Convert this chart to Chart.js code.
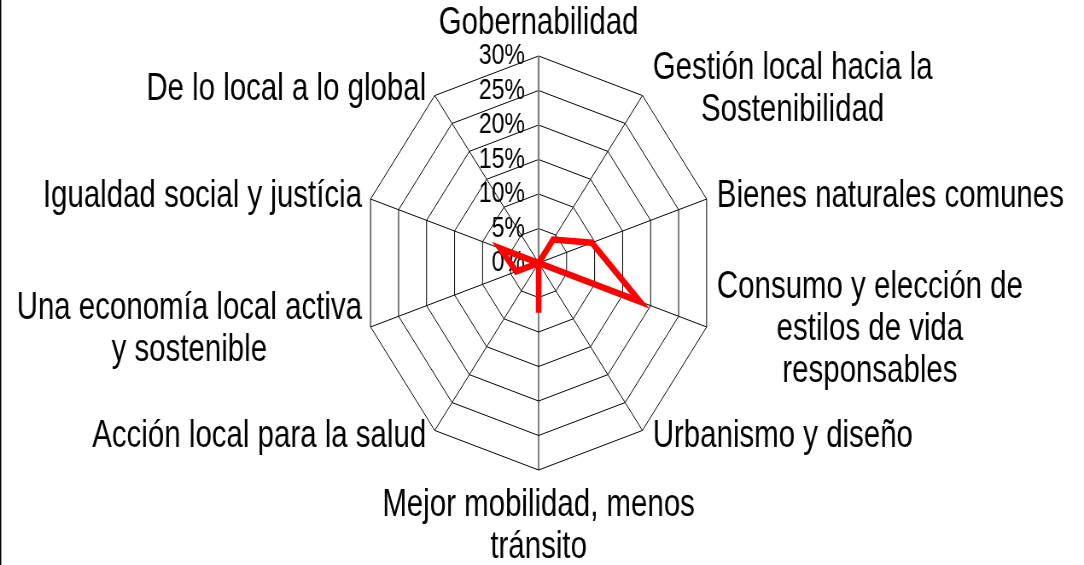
<!DOCTYPE html>
<html>
<head>
<meta charset="utf-8">
<script src="https://cdn.jsdelivr.net/npm/chart.js@4.4.1/dist/chart.umd.min.js"></script>
<style>
  html, body { margin: 0; padding: 0; background: #fff; }
</style>
</head>
<body>
<!-- el original está comprimido en horizontal: se dibuja a 1270 y se muestra a 1084 -->
<canvas id="radar" width="1270" height="565" style="width:1084px;height:565px"></canvas>

<script>
  // Ejes del radar (en orden horario desde arriba)
  const temas = [
    "Gobernabilidad",
    ["Gestión local hacia la", "Sostenibilidad"],
    "Bienes naturales comunes",
    ["Consumo y elección de", "estilos de vida", "responsables"],
    "Urbanismo y diseño",
    ["Mejor mobilidad, menos", "tránsito"],
    "Acción local para la salud",
    ["Una economía local activa", "y sostenible"],
    "Igualdad social y justícia",
    "De lo local a lo global",
  ];

  // Porcentaje por tema
  const porcentajes = [0, 4.2, 9.5, 18.1, 0, 7.2, 0, 4, 6.9, 0];

  // Escala 0% - 30%
  const escalaMin = 0;
  const escalaMax = 30;
  const escalaPaso = 5;

  // texto un poco más alto que ancho, como en el original
  function texto(ctx, s, x, y) {
    ctx.save();
    ctx.translate(x, y);
    ctx.scale(1, 1.1);
    ctx.fillText(s, 0, 0);
    ctx.restore();
  }

  // Textos: marcas de la escala y nombres de los ejes
  const textos = {
    id: "textos",
    beforeDatasetsDraw(chart) {
      const r = chart.scales.r;
      const ctx = chart.ctx;
      ctx.save();
      ctx.font = '27px "Liberation Sans", Arial, sans-serif';
      ctx.fillStyle = "#000";
      ctx.textAlign = "right";
      ctx.textBaseline = "middle";
      r.ticks.forEach((t) => {
        const y = r.yCenter - r.getDistanceFromCenterForValue(t.value);
        texto(ctx, t.value + "%", r.xCenter - 16, y);
      });
      ctx.restore();
    },
    afterDraw(chart) {
      const r = chart.scales.r;
      const ctx = chart.ctx;
      const alto = 42; // interlineado
      ctx.save();
      ctx.font = '34.5px "Liberation Sans", Arial, sans-serif';
      ctx.fillStyle = "#000";
      ctx.textAlign = "center";
      ctx.textBaseline = "middle";

      chart.data.labels.forEach((lab, i) => {
        const lineas = [].concat(lab);
        const p = r.getPointPosition(i, r.drawingArea);
        const ang = r.getIndexAngle(i);
        const sin = Math.sin(ang);
        const cos = Math.cos(ang);
        const ancho = Math.max(...lineas.map((l) => ctx.measureText(l).width));
        let cx, y0;
        if (Math.abs(sin) < 0.1) {
          cx = p.x;
          y0 = cos > 0 ? p.y - 32 - (lineas.length - 1) * alto : p.y + 36;
        } else {
          cx = sin > 0 ? p.x + 12 + ancho / 2 : p.x - 10 - ancho / 2;
          y0 = p.y - cos * 7 - ((lineas.length - 1) * alto) / 2;
        }
        lineas.forEach((l, k) => texto(ctx, l, cx, y0 + k * alto));
      });

      // borde izquierdo del marco
      ctx.fillRect(0, 0, 1.5, chart.height);
      ctx.restore();
    },
  };

  const ctx = document.getElementById("radar").getContext("2d");
  new Chart(ctx, {
    type: "radar",
    data: {
      labels: temas,
      datasets: [
        {
          label: "Temas",
          data: porcentajes,
          borderColor: "#FF0000",
          borderWidth: 6.5,
          pointRadius: 0,
          fill: false,
        },
      ],
    },
    options: {
      responsive: false,
      devicePixelRatio: 1,
      animation: false,
      layout: {
        padding: { left: 424, right: 432, top: 56, bottom: 95 },
      },
      plugins: {
        legend: { display: false },
        tooltip: { enabled: false },
      },
      scales: {
        r: {
          min: escalaMin,
          max: escalaMax,
          ticks: { display: false, stepSize: escalaPaso },
          pointLabels: { display: false },
          grid: { color: "#000", lineWidth: 1 },
          angleLines: {
            color: (c) => (c.index === 0 ? "#808080" : "#000"),
            lineWidth: (c) => (c.index === 0 ? 2.3 : 1),
          },
        },
      },
    },
    plugins: [textos],
  });
</script>
</body>
</html>
